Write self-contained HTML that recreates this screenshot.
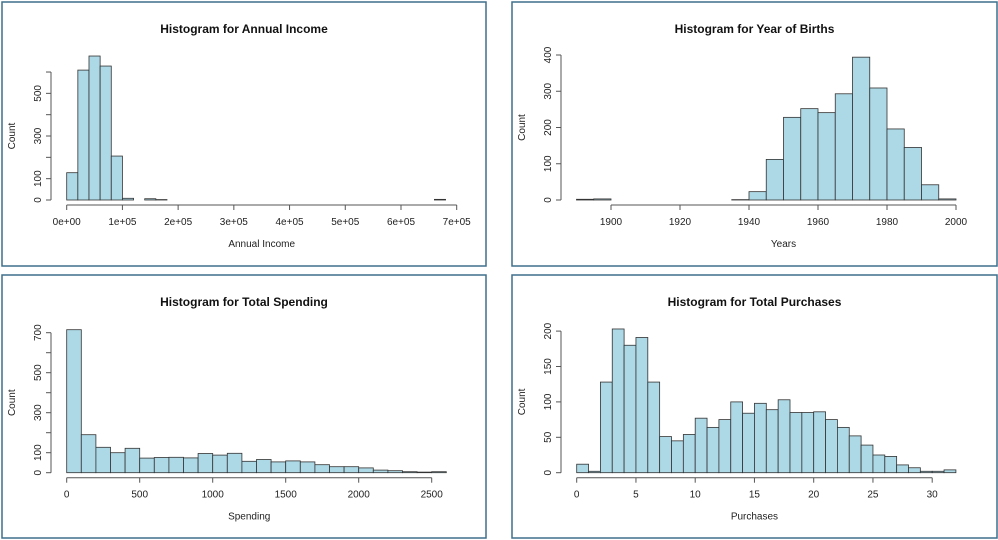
<!DOCTYPE html>
<html><head><meta charset="utf-8"><style>
body{margin:0;background:#fff;width:998px;height:540px;overflow:hidden}
svg{display:block;font-family:"Liberation Sans",Arial,sans-serif}
</style></head><body>
<svg id="c" width="998" height="540"></svg>
<script>
const incomeCounts=[128,609,675,628,206,8,0,6,2,0,0,0,0,0,0,0,0,0,0,0,0,0,0,0,0,0,0,0,0,0,0,0,0,3];
const incomeTicks=["0e+00","1e+05","2e+05","3e+05","4e+05","5e+05","6e+05","7e+05"];
const yearCounts=[2,3,0,0,0,0,0,0,0,1,23,112,228,252,241,293,394,309,196,145,42,3];
const yearTicks=[1900,1920,1940,1960,1980,2000];
const spendCounts=[715,190,127,100,122,73,76,77,74,96,88,97,57,66,54,59,54,40,30,30,24,13,10,5,3,5];
const spendTicks=[0,500,1000,1500,2000,2500];
const purchCounts=[12,2,128,203,180,191,128,51,45,54,77,64,75,100,84,98,89,103,85,85,86,75,64,52,39,25,23,11,7,2,2,4];
const purchTicks=[0,5,10,15,20,25,30];

const NS="http://www.w3.org/2000/svg";
const svg=document.getElementById('c');
function el(t,a,p){const e=document.createElementNS(NS,t);for(const k in a)e.setAttribute(k,a[k]);(p||svg).appendChild(e);return e;}

function panel(cfg){
  const g=el('g',{});
  
  
  const b=el('rect',{x:cfg.box[0],y:cfg.box[1],width:cfg.box[2],height:cfg.box[3],fill:'#fff',stroke:'#3f6f8c','stroke-width':1.5},g);
  
  
  const sx=v=>cfg.x0+(v-cfg.xv0)*cfg.xs;
  const sy=v=>cfg.y0-v*cfg.ys;
  const t=el('text',{x:cfg.box[0]+cfg.box[2]/2,y:cfg.box[1]+31,'text-anchor':'middle','font-size':12,'font-weight':'bold',fill:'#111'},g);
  t.textContent=cfg.title;
  
  
  cfg.counts.forEach((c,i)=>{
    const a=cfg.start+i*cfg.bw;
    const r=el('rect',{x:sx(a),y:sy(c),width:sx(a+cfg.bw)-sx(a),height:Math.max(sy(0)-sy(c),0),fill:'#add8e6',stroke:'#333','stroke-width':0.8},g);
    
    
  });
  // x axis
  const xa=el('g',{},g);
  
  
  const xt=cfg.xticks, ay=cfg.y0+5;
  const xvals=xt.map(v=>cfg.xtv?cfg.xtv(v):v);
  el('line',{x1:sx(xvals[0]),x2:sx(xvals[xvals.length-1]),y1:ay,y2:ay,stroke:'#555'},xa);
  xt.forEach((v,i)=>{
    const x=sx(xvals[i]);
    el('line',{x1:x,x2:x,y1:ay,y2:ay+5,stroke:'#555'},xa);
    const tx=el('text',{x:x,y:ay+20,'text-anchor':'middle','font-size':10,fill:'#222'},xa);
    tx.textContent=v;
  });
  const xl=el('text',{x:(sx(xvals[0])+sx(xvals[xvals.length-1]))/2,y:cfg.y0+47,'text-anchor':'middle','font-size':10,fill:'#222'},g);
  xl.textContent=cfg.xlabel;
  
  
  // y axis
  const ya=el('g',{},g);
  
  
  const axx=cfg.yaxx;
  el('line',{x1:axx,x2:axx,y1:sy(0),y2:sy(cfg.ymax),stroke:'#555'},ya);
  for(let v=0;v<=cfg.ymax;v+=cfg.ystep){
    el('line',{x1:axx-5,x2:axx,y1:sy(v),y2:sy(v),stroke:'#555'},ya);
    if(cfg.ylabels.includes(v)){
      const ty=el('text',{x:axx-10,y:sy(v),'text-anchor':'middle','font-size':10,fill:'#222',transform:`rotate(-90 ${axx-10} ${sy(v)})`},ya);
      ty.textContent=v;
    }
  }
  const yl=el('text',{x:cfg.box[0]+13,y:(sy(0)+sy(cfg.ymax))/2,'text-anchor':'middle','font-size':10,fill:'#222',transform:`rotate(-90 ${cfg.box[0]+13} ${(sy(0)+sy(cfg.ymax))/2})`},g);
  yl.textContent='Count';
  
  
}

panel({name:'income-histogram',box:[2,2,484,264],title:'Histogram for Annual Income',counts:incomeCounts,start:0,bw:20000,
  x0:66.7,xv0:0,xs:390/700000,y0:200,ys:0.2133,xticks:incomeTicks,xtv:v=>parseFloat(v),xlabel:'Annual Income',
  yaxx:51,ymax:600,ystep:100,ylabels:[0,100,300,500]});
panel({name:'birth-year-histogram',box:[512,2,485,264],title:'Histogram for Year of Births',counts:yearCounts,start:1890,bw:5,
  x0:611,xv0:1900,xs:3.45,y0:200,ys:0.3625,xticks:yearTicks,xlabel:'Years',
  yaxx:561,ymax:400,ystep:100,ylabels:[0,100,200,300,400]});
panel({name:'spending-histogram',box:[2,275,484,263],title:'Histogram for Total Spending',counts:spendCounts,start:0,bw:100,
  x0:66.7,xv0:0,xs:0.146,y0:472.7,ys:0.2,xticks:spendTicks,xlabel:'Spending',
  yaxx:51,ymax:700,ystep:100,ylabels:[0,100,300,500,700]});
panel({name:'purchases-histogram',box:[512,275,485,263],title:'Histogram for Total Purchases',counts:purchCounts,start:0,bw:1,
  x0:576.7,xv0:0,xs:11.85,y0:472.7,ys:0.708,xticks:purchTicks,xlabel:'Purchases',
  yaxx:561,ymax:200,ystep:50,ylabels:[0,50,100,150,200]});
</script>
</body></html>
